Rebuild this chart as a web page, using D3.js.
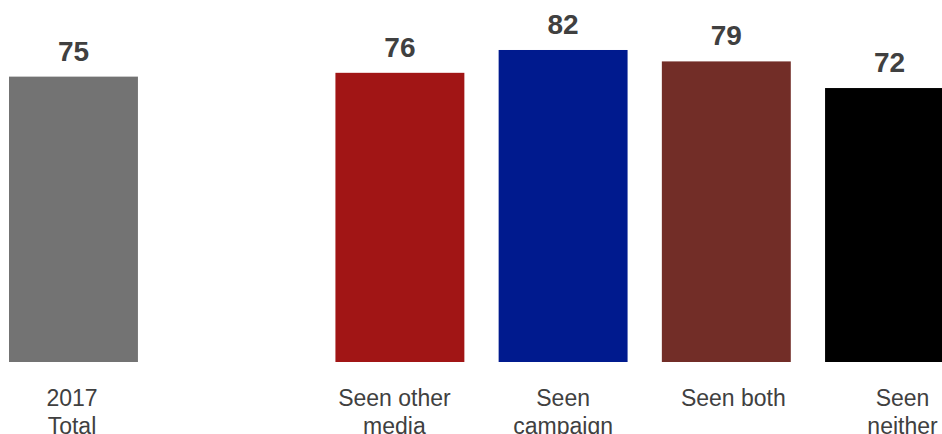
<!DOCTYPE html>
<html>
<head>
<meta charset="utf-8">
<script src="https://cdn.jsdelivr.net/npm/d3@7"></script>
<style>
  html, body { margin: 0; padding: 0; background: #fff; overflow: hidden; }
  svg { display: block; font-family: "Liberation Sans", Arial, sans-serif; }
</style>
</head>
<body>
<svg id="chart" width="942" height="434"></svg>
<script>
// Data
const categories = ["2017|Total", "gap", "Seen other|media", "Seen|campaign", "Seen both", "Seen|neither"];
const values = [75, null, 76, 82, 79, 72];
const colors = ["#737373", "none", "#A11515", "#001A8E", "#722D27", "#000000"];

// Layout: horizontal nudge of each category label relative to its bar centre (as in the reference)
const labelNudge = [-1.5, 0, -5.5, 0, 7, 13];

const W = 942, H = 434;
const svg = d3.select("#chart");

const x = d3.scaleBand()
  .domain(categories)
  .range([9, 954])
  .paddingInner(0.21)
  .paddingOuter(0);

const y = d3.scaleLinear()
  .domain([0, 100])
  .range([362, 362 - 380.5]);

const data = categories.map((c, i) => ({ cat: c, value: values[i], color: colors[i] }))
  .filter(d => d.value != null);

// Bars
svg.append("g").selectAll("rect")
  .data(data)
  .join("rect")
  .attr("x", d => x(d.cat))
  .attr("y", d => y(d.value))
  .attr("width", x.bandwidth())
  .attr("height", d => y(0) - y(d.value))
  .attr("fill", d => d.color);

// Value labels
svg.append("g").selectAll("text")
  .data(data)
  .join("text")
  .attr("x", d => x(d.cat) + x.bandwidth() / 2)
  .attr("y", d => y(d.value) - 16)
  .attr("text-anchor", "middle")
  .attr("font-size", 28)
  .attr("font-weight", "bold")
  .attr("fill", "#404040")
  .text(d => d.value);

// Category axis
const axis = d3.axisBottom(x).tickSize(0).tickFormat(d => d === "gap" ? "" : d);
const gAxis = svg.append("g")
  .attr("transform", `translate(0,${y(0)})`)
  .call(axis);
gAxis.select(".domain").remove();
gAxis.selectAll(".tick text")
  .attr("font-family", "'Liberation Sans', Arial, sans-serif")
  .attr("font-size", 23)
  .attr("fill", "#404040")
  .attr("dy", null)
  .attr("y", 0)
  .each(function(d) {
    const t = d3.select(this);
    const i = categories.indexOf(d);
    t.text(null);
    if (d === "gap") return;
    d.split("|").forEach((line, k) => {
      t.append("tspan")
        .attr("x", labelNudge[i])
        .attr("y", 44 + k * 28)
        .text(line);
    });
  });
</script>
</body>
</html>
